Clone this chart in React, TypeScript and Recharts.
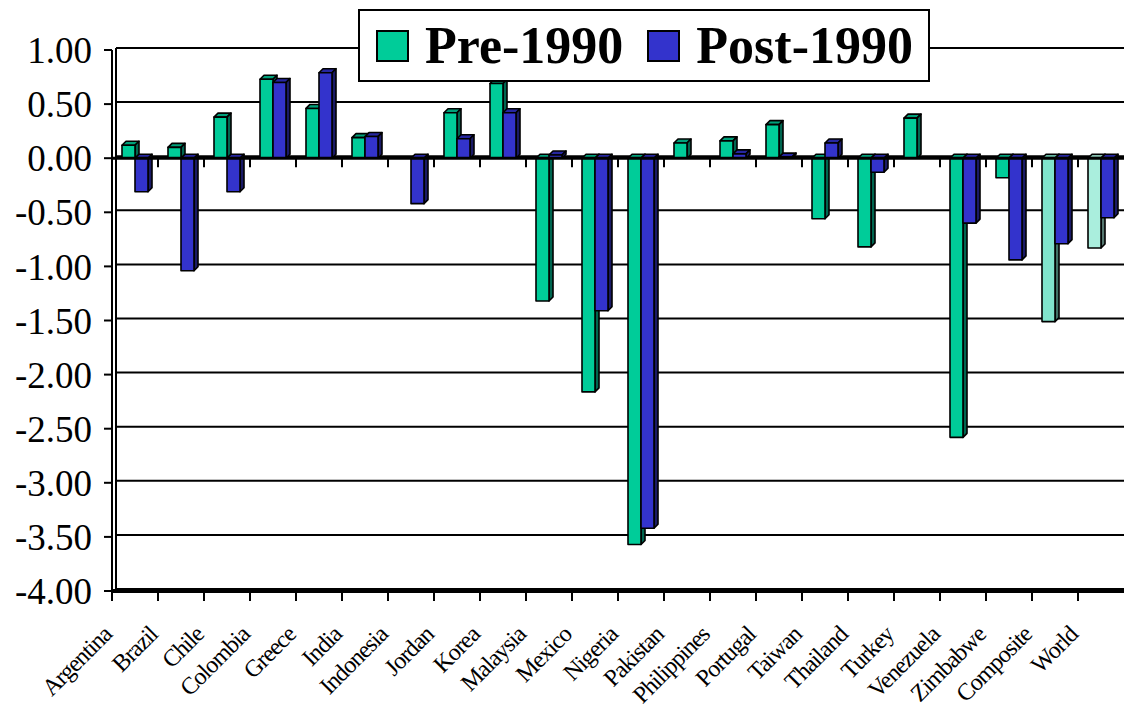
import React from 'react';
import { BarChart, Bar, XAxis, YAxis, CartesianGrid, Legend, ReferenceLine, ReferenceArea, Cell } from 'recharts';

const countries = [
  'Argentina', 'Brazil', 'Chile', 'Colombia', 'Greece', 'India', 'Indonesia', 'Jordan',
  'Korea', 'Malaysia', 'Mexico', 'Nigeria', 'Pakistan', 'Philippines', 'Portugal', 'Taiwan',
  'Thailand', 'Turkey', 'Venezuela', 'Zimbabwe', 'Composite', 'World',
];

const pre1990 = [
  0.12, 0.1, 0.38, 0.73, 0.46, 0.19, null, 0.42, 0.69, -1.32, -2.16,
  -3.57, 0.14, 0.16, 0.31, -0.56, -0.82, 0.37, -2.58, -0.18, -1.51, -0.83,
];

const post1990 = [
  -0.31, -1.04, -0.31, 0.7, 0.79, 0.2, -0.42, 0.18, 0.42, 0.03, -1.41,
  -3.42, null, 0.04, 0.01, 0.14, -0.13, null, -0.6, -0.94, -0.79, -0.55,
];

const yTicks = [1, 0.5, 0, -0.5, -1, -1.5, -2, -2.5, -3, -3.5, -4];

const GREEN = '#00CC99';
const BLUE = '#3333CC';
const COMPOSITE_GREEN = '#80E4CC';
const WORLD_GREEN = '#AAEEDD';

// darker faces for the fake 3d look
const shades: Record<string, { side: string; top: string }> = {
  [GREEN]: { side: '#006650', top: '#00A07A' },
  [BLUE]: { side: '#1A1A66', top: '#2626A0' },
  [COMPOSITE_GREEN]: { side: '#407266', top: '#66B8A3' },
  [WORLD_GREEN]: { side: '#557770', top: '#88C0B0' },
};

const data = countries.map((name, i) => ({ name, pre: pre1990[i], post: post1990[i] }));
const preFills = countries.map((c) => (c === 'Composite' ? COMPOSITE_GREEN : c === 'World' ? WORLD_GREEN : GREEN));
const seriesOrder = ['pre', 'post'];

const FONT = '"Liberation Serif", "Times New Roman", serif';
const DEPTH = 4;

const Bar3D = (props: any) => {
  const { x, y, width, height, fill } = props;
  if (x == null || y == null || !width || height == null) return null;
  const top = Math.min(y, y + height);
  const h = Math.abs(height);
  const s = shades[fill] || { side: '#333', top: fill };
  const d = DEPTH;
  return (
    <g stroke="#000" strokeWidth={1.6} strokeLinejoin="round">
      <polygon points={`${x},${top} ${x + d},${top - d} ${x + width + d},${top - d} ${x + width},${top}`} fill={s.top} />
      <polygon
        points={`${x + width},${top} ${x + width + d},${top - d} ${x + width + d},${top + h - d} ${x + width},${top + h}`}
        fill={s.side}
      />
      <rect x={x} y={top} width={width} height={h} fill={fill} />
    </g>
  );
};

// axis line with tick marks on the category boundaries
const makeTickedLine = (width: number, tickLen: number, fromFirst: boolean) => (props: any) => {
  const { x1, y1, x2 } = props;
  if (x1 == null) return null;
  const bw = (x2 - x1) / countries.length;
  const marks = [];
  for (let k = fromFirst ? 0 : 1; k < countries.length; k++) {
    const tx = x1 + k * bw;
    marks.push(<line key={k} x1={tx} y1={y1} x2={tx} y2={y1 + tickLen} stroke="#000" strokeWidth={2} />);
  }
  return (
    <g>
      <line x1={x1} y1={y1} x2={x2} y2={y1} stroke="#000" strokeWidth={width} />
      {marks}
    </g>
  );
};

const ZeroLine = makeTickedLine(3, 9, false);
const FloorLine = makeTickedLine(4, 10, true);

const WallEdge = (props: any) => {
  const { x, y, height } = props;
  if (x == null) return null;
  return <line x1={x + 4} y1={y - 2} x2={x + 4} y2={y + height} stroke="#000" strokeWidth={2} />;
};

const GridLine = (props: any) => {
  const { x1, y1, x2, key } = props;
  return <line key={key} x1={x1 + 4} y1={y1 - 2} x2={x2} y2={y1 - 2} stroke="#000" strokeWidth={2} />;
};

const CountryTick = (props: any) => {
  const { x, y, payload } = props;
  const ax = x - 22;
  const ay = y + 45;
  return (
    <text
      x={ax}
      y={ay}
      transform={`rotate(-45 ${ax} ${ay})`}
      textAnchor="end"
      fontFamily={FONT}
      fontSize={24}
      letterSpacing={-1}
      fill="#000"
    >
      {payload.value}
    </text>
  );
};

const LegendBox = (props: any) => {
  const items = [...((props.payload || []) as any[])].sort(
    (a, b) => seriesOrder.indexOf(a.dataKey) - seriesOrder.indexOf(b.dataKey),
  );
  return (
    <div
      style={{
        boxSizing: 'border-box',
        height: 73,
        border: '2px solid #000',
        background: '#fff',
        display: 'flex',
        alignItems: 'center',
        paddingLeft: 16,
        fontFamily: FONT,
        fontWeight: 'bold',
        fontSize: 52,
        color: '#000',
      }}
    >
      {items.map((it, i) => (
        <div key={it.value} style={{ display: 'flex', alignItems: 'center', marginLeft: i === 0 ? 0 : 24 }}>
          <span
            style={{
              display: 'inline-block',
              boxSizing: 'border-box',
              width: 33,
              height: 32,
              border: '2px solid #000',
              background: it.color,
              marginRight: 16,
            }}
          />
          <span style={{ lineHeight: 1 }}>{it.value}</span>
        </div>
      ))}
    </div>
  );
};

export default function App() {
  return (
    <div style={{ width: 1125, height: 710, background: '#fff' }}>
      <style>{'body{margin:0}'}</style>
      <BarChart
        width={1125}
        height={710}
        data={data}
        margin={{ top: 50, right: 1, bottom: 0, left: 0 }}
        barSize={13}
        barGap={0}
      >
        <CartesianGrid vertical={false} horizontal={GridLine as any} />
        <ReferenceArea y1={-4} y2={1} shape={WallEdge as any} />
        <XAxis
          dataKey="name"
          interval={0}
          height={119}
          tickLine={false}
          axisLine={false}
          tickSize={0}
          tickMargin={0}
          tick={CountryTick as any}
        />
        <YAxis
          domain={[-4, 1]}
          ticks={yTicks}
          interval={0}
          width={112}
          tickFormatter={(v: number) => v.toFixed(2)}
          tick={{ fontSize: 37, fill: '#000', fontFamily: FONT }}
          tickSize={8}
          tickMargin={12}
          tickLine={{ stroke: '#000', strokeWidth: 2 }}
          axisLine={{ stroke: '#000', strokeWidth: 2 }}
        />
        <Legend
          layout="horizontal"
          verticalAlign="middle"
          content={LegendBox as any}
          wrapperStyle={{ left: 358, top: 9, width: 572, height: 73 }}
        />
        <Bar dataKey="pre" name="Pre-1990" fill={GREEN} shape={Bar3D as any} isAnimationActive={false}>
          {preFills.map((f, i) => (
            <Cell key={i} fill={f} />
          ))}
        </Bar>
        <Bar dataKey="post" name="Post-1990" fill={BLUE} shape={Bar3D as any} isAnimationActive={false} />
        <ReferenceLine y={0} shape={ZeroLine as any} />
        <ReferenceLine y={-4} shape={FloorLine as any} />
      </BarChart>
    </div>
  );
}
